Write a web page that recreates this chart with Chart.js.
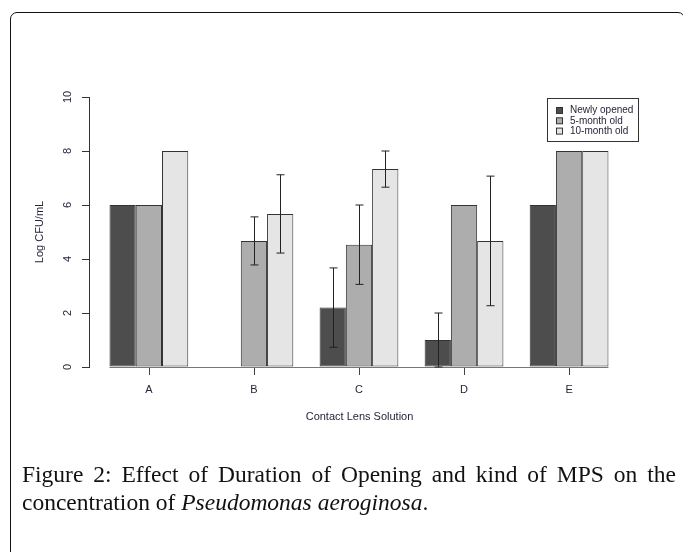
<!DOCTYPE html>
<html>
<head>
<meta charset="utf-8">
<script src="https://cdn.jsdelivr.net/npm/chart.js@4"></script>
<style>
  html, body { margin: 0; padding: 0; background: #fff; }
  #wrap { position: relative; width: 683px; height: 552px; overflow: hidden; }
  #frame {
    position: absolute; left: 10px; top: 12px; width: 675px; height: 600px;
    border: 1.5px solid #111; border-radius: 7px; box-sizing: border-box;
  }
  #chart { position: absolute; left: 0; top: 0; }
  #caption {
    position: absolute; left: 22px; top: 460px; width: 654px;
    font-family: "Liberation Serif", "DejaVu Serif", serif; font-size: 23.5px;
    line-height: 28px; color: #111; text-align: justify;
  }
</style>
</head>
<body>
<div id="wrap">
  <div id="frame"></div>
  <canvas id="chart" width="683" height="552"></canvas>
  <div id="caption">Figure 2: Effect of Duration of Opening and kind of MPS on the concentration of <i>Pseudomonas aeroginosa</i>.</div>
</div>
<script>
// データ
const categories = ["A", "B", "C", "D", "E"];
const seriesNames = ["Newly opened", "5-month old", "10-month old"];
const newlyOpened = [6, 0, 2.2, 1, 6];
const fiveMonth = [6, 4.67, 4.53, 6, 8];
const tenMonth = [8, 5.67, 7.33, 4.67, 8];
const newlyErr = [0, 0, 1.47, 1, 0];
const fiveErr = [0, 0.89, 1.47, 0, 0];
const tenErr = [0, 1.45, 0.67, 2.4, 0];
const yTicks = [0, 2, 4, 6, 8, 10];

const colors = ["#4d4d4d", "#adadad", "#e5e5e5"];
const textColor = "#26263a";

function toPoints(values) {
  return values.map((v, i) => ({ x: i + 1, y: v }));
}

// エラーバーと基準線
const errorBars = {
  id: "errorBars",
  afterDatasetsDraw(chart) {
    const ctx = chart.ctx;
    const yScale = chart.scales.y;
    ctx.save();
    // 基準線（最初の棒の左端から最後の棒の右端まで）
    const first = chart.getDatasetMeta(0).data[0];
    const last = chart.getDatasetMeta(2).data[categories.length - 1];
    const y0 = Math.round(yScale.getPixelForValue(0)) + 0.5;
    ctx.strokeStyle = "#777";
    ctx.lineWidth = 1;
    ctx.beginPath();
    ctx.moveTo(first.x - first.width / 2, y0);
    ctx.lineTo(last.x + last.width / 2, y0);
    ctx.stroke();

    ctx.strokeStyle = "#222";
    chart.data.datasets.forEach((ds, i) => {
      const meta = chart.getDatasetMeta(i);
      ds.errors.forEach((e, j) => {
        if (!e) return;
        const v = ds.data[j].y;
        const x = Math.round(meta.data[j].x) + 0.5;
        const top = yScale.getPixelForValue(v + e);
        const bot = yScale.getPixelForValue(Math.max(0, v - e));
        ctx.beginPath();
        ctx.moveTo(x, top);
        ctx.lineTo(x, bot);
        ctx.moveTo(x - 4, top);
        ctx.lineTo(x + 4, top);
        ctx.moveTo(x - 4, bot);
        ctx.lineTo(x + 4, bot);
        ctx.stroke();
      });
    });
    ctx.restore();
  },
};

// 凡例（枠付き）とx軸の目盛り線
const boxLegend = {
  id: "boxLegend",
  afterDraw(chart) {
    const ctx = chart.ctx;
    const area = chart.chartArea;
    ctx.save();
    ctx.lineWidth = 1;
    ctx.strokeStyle = "#444";
    const meta = chart.getDatasetMeta(1);
    meta.data.forEach((bar) => {
      const x = Math.round(bar.x) + 0.5;
      ctx.beginPath();
      ctx.moveTo(x, area.bottom + 1);
      ctx.lineTo(x, area.bottom + 8);
      ctx.stroke();
    });

    ctx.strokeStyle = "#333";
    ctx.strokeRect(547.5, 98.5, 91, 43);
    ctx.font = "10px 'Liberation Sans', Arial, sans-serif";
    ctx.textBaseline = "middle";
    chart.data.datasets.forEach((ds, i) => {
      const cy = 110.5 + i * 10.3;
      ctx.fillStyle = ds.backgroundColor;
      ctx.fillRect(556.5, cy - 3, 6, 6);
      ctx.strokeRect(556.5, cy - 3, 6, 6);
      ctx.fillStyle = textColor;
      ctx.fillText(ds.label, 570, cy);
    });
    ctx.restore();
  },
};

const seriesValues = [newlyOpened, fiveMonth, tenMonth];
const seriesErrors = [newlyErr, fiveErr, tenErr];

new Chart(document.getElementById("chart"), {
  type: "bar",
  data: {
    datasets: seriesNames.map((name, i) => ({
      label: name,
      data: toPoints(seriesValues[i]),
      errors: seriesErrors[i],
      backgroundColor: colors[i],
      borderColor: "#333",
      borderWidth: 1,
      borderSkipped: false,
      categoryPercentage: 0.75,
      barPercentage: 1,
    })),
  },
  options: {
    responsive: false,
    animation: false,
    layout: { padding: { left: 0, right: 53, top: 97, bottom: 115 } },
    plugins: { legend: { display: false }, tooltip: { enabled: false } },
    scales: {
      x: {
        type: "linear",
        min: 0.43,
        max: 5.58,
        offset: false,
        afterBuildTicks: (s) => { s.ticks = categories.map((c, i) => ({ value: i + 1 })); },
        afterFit: (s) => { s.height = 70; },
        border: { display: false },
        grid: { display: false, tickLength: 7 },
        ticks: {
          callback: (v) => categories[v - 1],
          color: textColor,
          padding: 9,
          maxRotation: 0,
          font: { family: "'Liberation Sans', Arial, sans-serif", size: 11 },
        },
        title: {
          display: true,
          text: "Contact Lens Solution",
          color: textColor,
          padding: { top: 0, bottom: 13 },
          font: { family: "'Liberation Sans', Arial, sans-serif", size: 11 },
        },
      },
      y: {
        min: 0,
        max: 10,
        afterBuildTicks: (s) => { s.ticks = yTicks.map((v) => ({ value: v })); },
        afterFit: (s) => { s.width = 89; },
        border: { display: true, color: "#333" },
        grid: { drawOnChartArea: false, tickLength: 7, color: "#333" },
        ticks: {
          color: textColor,
          minRotation: 90,
          maxRotation: 90,
          crossAlign: "center",
          padding: 8,
          font: { family: "'Liberation Sans', Arial, sans-serif", size: 11 },
        },
        title: {
          display: true,
          text: "Log CFU/mL",
          color: textColor,
          padding: { top: 33, bottom: 0 },
          font: { family: "'Liberation Sans', Arial, sans-serif", size: 11 },
        },
      },
    },
  },
  plugins: [errorBars, boxLegend],
});
</script>
</body>
</html>
